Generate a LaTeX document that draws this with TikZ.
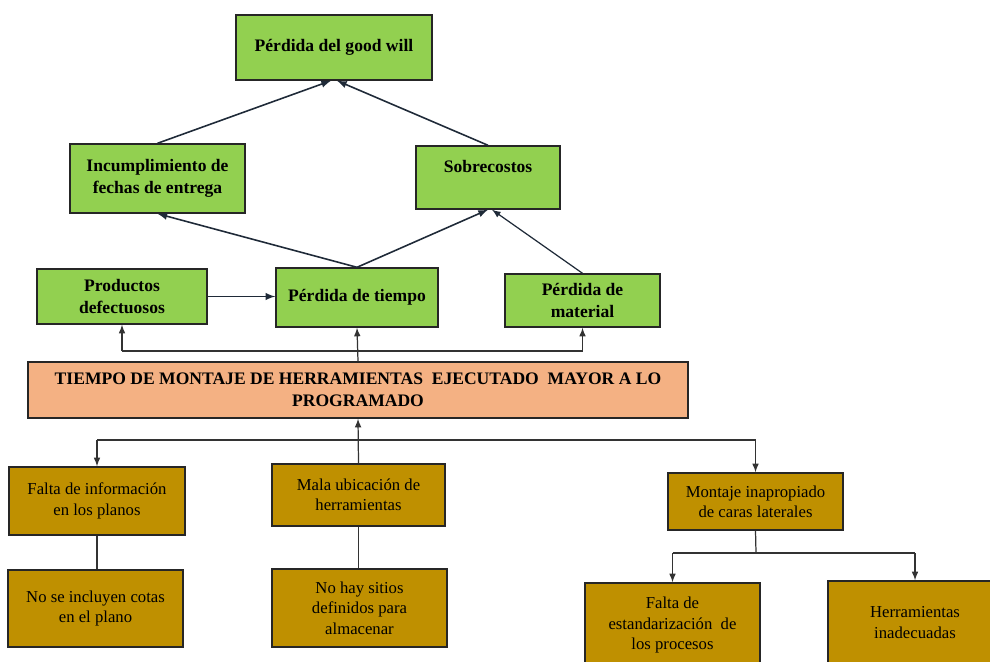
\documentclass[tikz,border=0pt]{standalone}
\usepackage{fontspec}
\setmainfont{LiberationSerif-Regular.ttf}[BoldFont=LiberationSerif-Bold.ttf]
\usepackage{tikz}

\definecolor{verde}{HTML}{92D050}
\definecolor{ocre}{HTML}{BF9000}
\definecolor{salmon}{HTML}{F4B183}
\definecolor{linea}{HTML}{1F2A38}

\tikzset{
  efecto/.style={draw=black!85, line width=0.8pt, fill=verde, align=center,
    font=\fontsize{10}{12.5}\selectfont\bfseries, inner sep=2pt},
  causa/.style={draw=black!85, line width=0.8pt, fill=ocre, align=center,
    font=\fontsize{9.5}{11.6}\selectfont, inner sep=2pt},
  problema/.style={draw=black!85, line width=0.8pt, fill=salmon, align=center,
    font=\fontsize{10}{12.5}\selectfont\bfseries, inner sep=2pt},
  flecha/.style={->, line width=0.9pt, draw=linea},
  conector/.style={line width=0.7pt, draw=black!80},
}

\begin{document}
\begin{tikzpicture}[x=0.02cm, y=-0.02cm, >=latex]
                \useasboundingbox (0,0) rectangle (990,662);
                \clip (0,0) rectangle (990,662);

                % Efectos
                \node[efecto, minimum width=3.92cm, minimum height=1.3cm] (goodwill) at (334,47.5) {P\'erdida del good will};
                \node[efecto, minimum width=3.5cm, minimum height=1.38cm] (incumplimiento) at (157.5,178.5) {Incumplimiento de\\fechas de entrega};
                \node[efecto, minimum width=2.88cm, minimum height=1.26cm] (sobrecostos) at (488,177.5) {Sobrecostos\\~};
                \node[efecto, minimum width=3.4cm, minimum height=1.1cm] (productos) at (122,296.5) {Productos\\defectuosos};
                \node[efecto, minimum width=3.24cm, minimum height=1.18cm] (tiempo) at (357,297.5) {P\'erdida de tiempo};
                \node[efecto, minimum width=3.1cm, minimum height=1.06cm] (material) at (582.5,300.5) {P\'erdida de\\material};

                % Problema central
                \node[problema, minimum width=13.2cm, minimum height=1.12cm] (problema) at (358,390) {TIEMPO DE MONTAJE DE HERRAMIENTAS\ \ EJECUTADO\ \ MAYOR A LO\\PROGRAMADO};

                % Causas
                \node[causa, minimum width=3.52cm, minimum height=1.36cm] (informacion) at (97,501) {Falta de informaci\'on\\en los planos};
                \node[causa, minimum width=3.46cm, minimum height=1.24cm] (ubicacion) at (358.5,495) {Mala ubicaci\'on de\\herramientas};
                \node[causa, minimum width=3.5cm, minimum height=1.14cm] (montaje) at (755.5,501.5) {Montaje inapropiado\\de caras laterales};
                \node[causa, minimum width=3.5cm, minimum height=1.54cm] (cotas) at (95.5,608.5) {No se incluyen cotas\\en el plano};
                \node[causa, minimum width=3.5cm, minimum height=1.56cm] (sitios) at (359.5,608) {No hay sitios\\definidos para\\almacenar};
                \node[causa, minimum width=3.5cm, minimum height=1.68cm] (estandar) at (672.5,625) {Falta de\\estandarizaci\'on\ \ de\\los procesos};
                \node[causa, minimum width=3.48cm, minimum height=1.66cm] (inadecuadas) at (915,622.5) {Herramientas\\inadecuadas};

                % Flechas entre efectos
                \draw[flecha] (incumplimiento.north) -- ([xshift=-0.06cm]goodwill.south);
                \draw[flecha] (sobrecostos.north) -- ([xshift=0.06cm]goodwill.south);
                \draw[flecha] (tiempo.north) -- (incumplimiento.south);
                \draw[flecha] (tiempo.north) -- (sobrecostos.south);
                \draw[flecha, line width=0.7pt] (material.north) -- ([xshift=0.08cm]sobrecostos.south);
                \draw[flecha] (productos.east) -- (productos.east -| tiempo.west);

                % Del problema a los efectos
                \coordinate (arriba) at (357,351);
                \draw[conector] (productos.south |- arriba) -- (material.south |- arriba);
                \draw[conector, ->] (problema.north) -- (tiempo.south);
                \draw[conector, ->] (productos.south |- arriba) -- (productos.south);
                \draw[conector, ->] (material.south |- arriba) -- (material.south);

                % De las causas al problema
                \coordinate (abajo) at (357,440);
                \draw[conector, ->] (ubicacion.north) -- (problema.south);
                \draw[conector] (informacion.north |- abajo) -- (montaje.north |- abajo);
                \draw[conector, ->] (informacion.north |- abajo) -- (informacion.north);
                \draw[conector, ->] (montaje.north |- abajo) -- (montaje.north);

                % Subcausas
                \draw[conector] (informacion.south) -- (informacion.south |- cotas.north);
                \draw[conector] (ubicacion.south) -- (ubicacion.south |- sitios.north);
                \coordinate (rama) at (756,553);
                \draw[conector] (montaje.south) -- (rama);
                \draw[conector] (estandar.north |- rama) -- (inadecuadas.north |- rama);
                \draw[conector, ->] (estandar.north |- rama) -- (estandar.north);
                \draw[conector, ->] (inadecuadas.north |- rama) -- (inadecuadas.north);
            \end{tikzpicture}
\end{document}
